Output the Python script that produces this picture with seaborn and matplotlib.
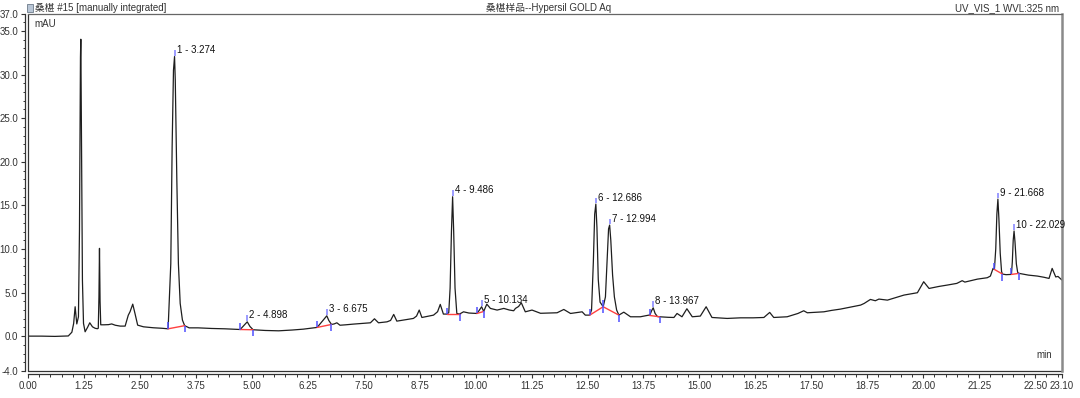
import matplotlib
matplotlib.use("Agg")
import matplotlib.pyplot as plt
from matplotlib.patches import Rectangle
from matplotlib.lines import Line2D
from matplotlib.ticker import MultipleLocator, FixedLocator
import numpy as np
import pandas as pd
import seaborn as sns

# ---------------- data ----------------
time_min = [
    0.00, 0.30, 0.60, 0.90, 0.98, 1.02, 1.053, 1.09, 1.127, 1.15, 1.172, 1.18, 1.194, 1.216, 1.24,
    1.276, 1.33, 1.38, 1.44, 1.50, 1.55, 1.57, 1.585, 1.597, 1.61, 1.625, 1.70, 1.80, 1.87, 1.95,
    2.06, 2.17, 2.24, 2.28, 2.34, 2.39, 2.45, 2.58, 2.80, 3.00, 3.13, 3.19, 3.22, 3.25, 3.274,
    3.29, 3.325, 3.36, 3.40, 3.45, 3.50, 3.60, 3.80, 4.10, 4.40, 4.74, 4.80, 4.898, 4.96, 5.03,
    5.30, 5.60, 5.90, 6.15, 6.46, 6.55, 6.675, 6.72, 6.78, 6.84, 6.90, 6.97, 7.10, 7.27, 7.45,
    7.65, 7.74, 7.83, 8.02, 8.10, 8.17, 8.24, 8.45, 8.61, 8.68, 8.74, 8.80, 9.06, 9.15, 9.21,
    9.28, 9.36, 9.40, 9.43, 9.46, 9.486, 9.51, 9.54, 9.58, 9.64, 9.73, 9.85, 10.03, 10.08, 10.134,
    10.18, 10.25, 10.33, 10.48, 10.63, 10.75, 10.85, 10.89, 10.96, 11.02, 11.11, 11.26, 11.45, 11.65, 11.82,
    11.97, 12.12, 12.23, 12.38, 12.45, 12.55, 12.59, 12.63, 12.66, 12.686, 12.71, 12.74, 12.78, 12.85, 12.90,
    12.94, 12.97, 12.994, 13.02, 13.06, 13.10, 13.15, 13.20, 13.31, 13.46, 13.68, 13.87, 13.89, 13.93, 13.967,
    14.01, 14.06, 14.11, 14.30, 14.43, 14.50, 14.61, 14.72, 14.84, 15.02, 15.15, 15.28, 15.62, 15.92, 16.20,
    16.44, 16.57, 16.66, 16.96, 17.20, 17.33, 17.41, 17.78, 17.95, 18.15, 18.40, 18.60, 18.68, 18.82, 18.93,
    19.01, 19.20, 19.40, 19.57, 19.87, 19.95, 20.01, 20.13, 20.35, 20.54, 20.75, 20.87, 20.93, 21.21, 21.43,
    21.50, 21.56, 21.59, 21.62, 21.645, 21.668, 21.69, 21.72, 21.75, 21.77, 21.85, 21.97, 21.99, 22.01, 22.029,
    22.05, 22.08, 22.11, 22.14, 22.35, 22.55, 22.70, 22.81, 22.88, 22.96, 23.01, 23.10,
]
signal_mau = [
    0.00, 0.00, -0.03, 0.02, 0.45, 1.46, 3.37, 1.40, 2.22, 12.2, 32.0, 34.06, 23.6, 6.4, 1.46,
    0.50, 1.00, 1.53, 1.07, 0.90, 0.85, 0.90, 4.5, 10.07, 4.0, 1.30, 1.30, 1.32, 1.40, 1.25,
    1.15, 1.15, 2.40, 2.80, 3.67, 2.60, 1.26, 1.07, 0.96, 0.90, 0.84, 8.3, 21.7, 30.5, 32.07,
    29.4, 17.9, 8.3, 3.75, 1.84, 1.20, 0.95, 0.95, 0.88, 0.84, 0.76, 1.10, 1.64, 1.10, 0.73,
    0.65, 0.61, 0.70, 0.80, 1.00, 1.55, 2.33, 1.80, 1.34, 1.40, 1.53, 1.25, 1.30, 1.38, 1.45,
    1.53, 1.99, 1.53, 1.64, 1.80, 2.49, 1.72, 1.90, 2.03, 2.30, 2.99, 2.14, 2.41, 2.80, 3.64,
    2.53, 2.53, 2.70, 5.5, 12.0, 15.99, 12.0, 5.5, 2.60, 2.53, 2.79, 2.65, 2.60, 2.95, 3.37,
    2.83, 3.67, 3.18, 2.99, 3.18, 3.00, 2.91, 3.18, 3.40, 3.83, 2.79, 2.99, 2.62, 2.65, 2.68,
    3.06, 2.60, 2.68, 2.79, 2.41, 2.41, 3.00, 8.5, 14.0, 15.15, 12.5, 6.5, 3.90, 3.37, 4.50,
    9.0, 12.3, 12.74, 11.0, 7.0, 4.50, 3.00, 2.41, 2.75, 2.22, 2.22, 2.41, 2.37, 2.90, 3.25,
    2.60, 2.25, 2.22, 2.16, 2.14, 2.60, 2.22, 3.14, 2.22, 2.30, 3.37, 2.14, 2.03, 2.10, 2.10,
    2.14, 2.72, 2.14, 2.22, 2.60, 2.91, 2.68, 2.79, 2.95, 3.10, 3.35, 3.56, 3.75, 4.21, 4.06,
    4.25, 4.13, 4.45, 4.71, 4.98, 5.70, 6.24, 5.47, 5.70, 5.86, 6.05, 6.36, 6.20, 6.54, 6.70,
    6.89, 7.77, 7.65, 10.0, 14.0, 15.72, 13.5, 9.5, 7.40, 7.12, 7.05, 7.08, 8.5, 11.0, 12.06,
    10.8, 8.3, 7.30, 7.20, 7.00, 6.89, 6.75, 6.62, 7.77, 6.79, 6.85, 6.43,
]

peak_no = [1, 2, 3, 4, 5, 6, 7, 8, 9, 10]
peak_rt = [3.274, 4.898, 6.675, 9.486, 10.134, 12.686, 12.994, 13.967, 21.668, 22.029]
peak_height = [32.07, 1.64, 2.33, 15.99, 3.37, 15.15, 12.74, 3.25, 15.72, 12.06]
base_start_t = [3.13, 4.74, 6.46, 9.36, 10.03, 12.55, 12.85, 13.89, 21.59, 21.97]
base_start_v = [0.84, 0.76, 1.00, 2.53, 2.60, 2.41, 3.37, 2.37, 7.65, 7.08]
base_end_t = [3.50, 5.03, 6.78, 9.64, 10.18, 12.85, 13.20, 14.11, 21.77, 22.14]
base_end_v = [1.20, 0.73, 1.34, 2.53, 2.83, 3.37, 2.41, 2.22, 7.12, 7.20]

x_ticks = [0.00, 1.25, 2.50, 3.75, 5.00, 6.25, 7.50, 8.75, 10.00, 11.25, 12.50,
           13.75, 15.00, 16.25, 17.50, 18.75, 20.00, 21.25, 22.50, 23.10]
y_ticks = [-4.0, 0.0, 5.0, 10.0, 15.0, 20.0, 25.0, 30.0, 35.0, 37.0]

header_left = "桑椹 #15 [manually integrated]"
header_mid = "桑椹样品--Hypersil GOLD Aq"
header_right = "UV_VIS_1 WVL:325 nm"

# ---------------- style ----------------
sns.set_style("ticks")
plt.rcParams['font.family'] = ['Liberation Sans', 'Noto Sans CJK SC', 'DejaVu Sans']
plt.rcParams['axes.unicode_minus'] = False
TXT = '#333333'

W, H = 1080, 398
fig = plt.figure(figsize=(W / 100, H / 100), dpi=100)
L, R, T, B = 28, 1062, 13.6, 371
ax = fig.add_axes([L / W, 1 - B / H, (R - L) / W, (B - T) / H])

df = pd.DataFrame({"time": time_min, "signal": signal_mau})
sns.lineplot(data=df, x="time", y="signal", ax=ax, color='#1e1e1e', lw=0.9,
             estimator=None, sort=False, legend=False)

ax.set_xlim(0, 23.10)
ax.set_ylim(-4.0, 37.0)
ax.set_xlabel("")
ax.set_ylabel("")

# integration baselines (red) and delimiter ticks (blue)
for st, sv, et, ev in zip(base_start_t, base_start_v, base_end_t, base_end_v):
    ax.plot([st, et], [sv, ev], color='#ff4040', lw=1.0, zorder=3)
ax.vlines(base_start_t, np.array(base_start_v), np.array(base_start_v) + 0.75,
          colors='#5050ff', lw=1.1, zorder=4)
ax.vlines(base_end_t, np.array(base_end_v) - 0.75, np.array(base_end_v),
          colors='#5050ff', lw=1.1, zorder=4)
ax.vlines(peak_rt, np.array(peak_height) + 0.1, np.array(peak_height) + 0.75,
          colors='#8080ff', lw=1.1, zorder=4)

for n, rt, h in zip(peak_no, peak_rt, peak_height):
    ax.annotate(f"{n} - {rt:.3f}", xy=(rt, h), xytext=(1.6, 4.6),
                textcoords='offset points', ha='left', va='center',
                fontsize=7, color='#111111', annotation_clip=False)

# axes / ticks
ax.xaxis.set_major_locator(FixedLocator(x_ticks))
ax.xaxis.set_minor_locator(MultipleLocator(0.25))
ax.yaxis.set_major_locator(FixedLocator(y_ticks))
ax.yaxis.set_minor_locator(MultipleLocator(1.0))
ax.set_xticklabels([f"{v:.2f}" for v in x_ticks])
ax.set_yticklabels([f"{v:.1f}" for v in y_ticks])
ax.tick_params(axis='both', which='major', length=3.2, width=0.8, color='#333333',
               labelsize=7, labelcolor=TXT, pad=1.5)
ax.tick_params(axis='both', which='minor', length=1.8, width=0.7, color='#333333')

for s in ['left', 'bottom']:
    ax.spines[s].set_position(('outward', 2.2))
    ax.spines[s].set_color('#333333')
    ax.spines[s].set_linewidth(0.9)
ax.spines['top'].set_color('#666666')
ax.spines['top'].set_linewidth(0.9)
ax.spines['right'].set_color('#8a8a8a')
ax.spines['right'].set_linewidth(1.8)
# inner frame lines (left & bottom)
ax.add_line(Line2D([0, 0], [0, 1], transform=ax.transAxes, color='#333333', lw=0.9, clip_on=False))
ax.add_line(Line2D([0, 1], [0, 0], transform=ax.transAxes, color='#333333', lw=0.9, clip_on=False))

ax.text(0.006, 0.985, "mAU", transform=ax.transAxes, fontsize=7, color=TXT, ha='left', va='top')
ax.text(0.99, 0.03, "min", transform=ax.transAxes, fontsize=7, color=TXT, ha='right', va='bottom')

# headers
fig.text(35 / W, 1 - 8 / H, header_left, fontsize=7, color=TXT, ha='left', va='center')
fig.text(549 / W, 1 - 8 / H, header_mid, fontsize=7, color=TXT, ha='center', va='center')
fig.text(1059 / W, 1 - 8 / H, header_right, fontsize=7, color=TXT, ha='right', va='center')
fig.patches.append(Rectangle((27 / W, 1 - 12 / H), 6 / W, 8 / H, transform=fig.transFigure,
                             facecolor='#b9c6d6', edgecolor='#6c7a8a', lw=0.6))

fig.savefig("out.png", dpi=100, facecolor='white')
